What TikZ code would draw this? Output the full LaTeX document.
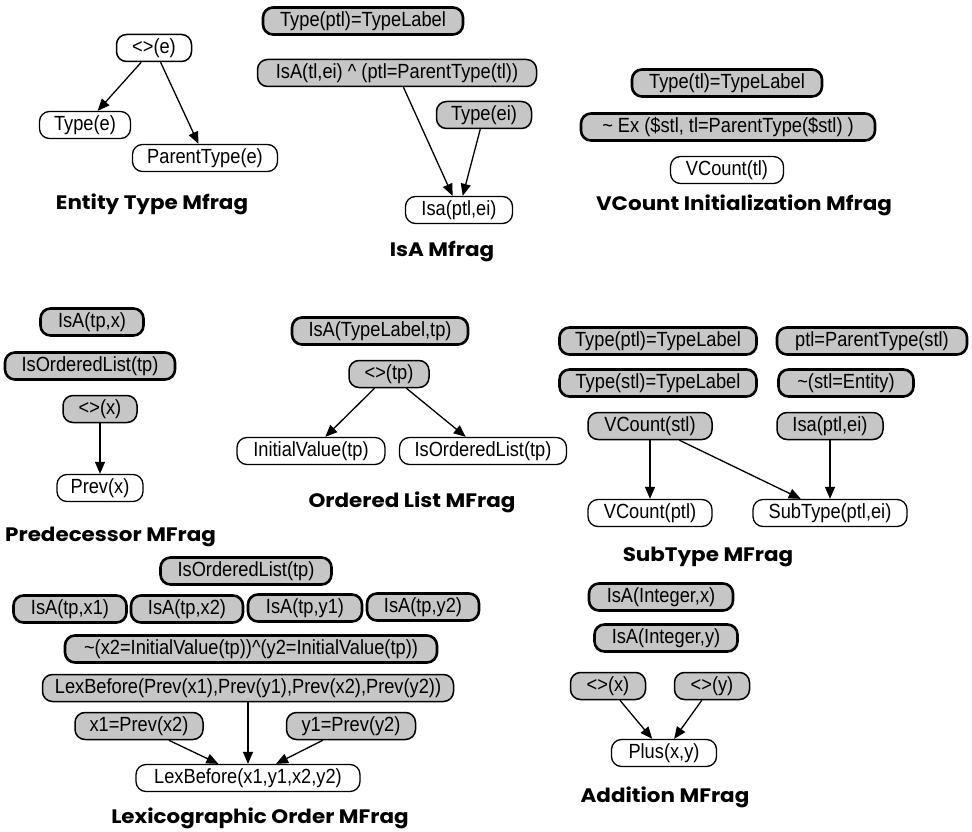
\documentclass[tikz,border=0pt]{standalone}
\usepackage{fontspec}
\setmainfont{Liberation Sans}[FakeStretch=0.89]
\newfontfamily\titlefont{Poppins}[FakeStretch=1.1]
\usetikzlibrary{arrows.meta}
\definecolor{nodegray}{RGB}{198,198,198}
\tikzset{
  x=1pt, y=-1pt,
  base/.style={draw, rounded corners=10pt, minimum height=27pt, inner xsep=0pt,
    inner ysep=0pt, font=\fontsize{20.5}{22}\selectfont, text=black},
  res/.style={base, fill=white, line width=1.3pt},
  inp/.style={base, fill=nodegray, line width=1.5pt},
  ctx/.style={base, fill=nodegray, line width=2.6pt},
  arr/.style={line width=1.3pt, -{Triangle[length=12pt,width=10pt]}},
  ttl/.style={font=\titlefont\bfseries\fontsize{19.5}{22}\selectfont}
}
\begin{document}
\begin{tikzpicture}
\useasboundingbox (0,0) rectangle (972,832);

% Entity Type Mfrag
\node[inp, fill=white, minimum width=75pt] (ee) at (154,48) {<>(e)};
\node[res, minimum width=91pt] (te) at (85,125) {Type(e)};
\node[res, minimum width=145pt] (pte) at (205,158) {ParentType(e)};
\node[ttl] (t1) at (152,204) {Entity Type Mfrag};
\draw[arr] (ee) -- (te);
\draw[arr] (ee) -- (pte);

% IsA Mfrag
\node[ctx, minimum width=200pt] (i1) at (363,21) {Type(ptl)=TypeLabel};
\node[inp, minimum width=279pt] (i2) at (397,73) {IsA(tl,ei) \^{} (ptl=ParentType(tl))};
\node[inp, minimum width=95pt] (i3) at (484,115) {Type(ei)};
\node[res, minimum width=107pt] (i4) at (459,210) {Isa(ptl,ei)};
\node[ttl] (t2) at (442,252) {IsA Mfrag};
\draw[arr] (i2) -- (i4);
\draw[arr] (i3) -- (i4);

% VCount Initialization Mfrag
\node[ctx, minimum width=190pt] (v1) at (727,83) {Type(tl)=TypeLabel};
\node[ctx, minimum width=294pt] (v2) at (728,127) {\textasciitilde{} Ex (\$stl, tl=ParentType(\$stl) )};
\node[res, minimum width=113pt] (v3) at (727,170) {VCount(tl)};
\node[ttl] (t3) at (744,205) {VCount Initialization Mfrag};

% Predecessor MFrag
\node[ctx, minimum width=103pt] (p1) at (92,322) {IsA(tp,x)};
\node[ctx, minimum width=170pt] (p2) at (90,366) {IsOrderedList(tp)};
\node[inp, minimum width=74pt] (p3) at (100,409) {<>(x)};
\node[res, minimum width=86pt] (p4) at (100,488) {Prev(x)};
\node[ttl, anchor=west, inner xsep=0pt] (t4) at (5,537) {Predecessor MFrag};
\draw[arr] (p3) -- (p4);

% Ordered List MFrag
\node[ctx, minimum width=176pt] (o1) at (380,331) {IsA(TypeLabel,tp)};
\node[inp, minimum width=80pt] (o2) at (389,374) {<>(tp)};
\node[res, minimum width=148pt] (o3) at (311,451) {InitialValue(tp)};
\node[res, minimum width=167pt] (o4) at (483,451) {IsOrderedList(tp)};
\node[ttl] (t5) at (412,502) {Ordered List MFrag};
\draw[arr] (o2) -- (o3);
\draw[arr] (o2) -- (o4);

% SubType MFrag
\node[ctx, minimum width=197pt] (s1) at (658,341) {Type(ptl)=TypeLabel};
\node[ctx, minimum width=190pt] (s2) at (872,341) {ptl=ParentType(stl)};
\node[ctx, minimum width=197pt] (s3) at (658,383) {Type(stl)=TypeLabel};
\node[ctx, minimum width=135pt] (s4) at (846,383) {\textasciitilde(stl=Entity)};
\node[inp, minimum width=124pt] (s5) at (650,426) {VCount(stl)};
\node[inp, minimum width=106pt] (s6) at (830,426) {Isa(ptl,ei)};
\node[res, minimum width=124pt] (s7) at (650,513) {VCount(ptl)};
\node[res, minimum width=154pt] (s8) at (830,513) {SubType(ptl,ei)};
\node[ttl] (t6) at (708,557) {SubType MFrag};
\draw[arr] (s5) -- (s7);
\draw[arr] (s5) -- (s8);
\draw[arr] (s6) -- (s8);

% Lexicographic Order MFrag
\node[ctx, minimum width=171pt] (l1) at (246,571) {IsOrderedList(tp)};
\node[ctx, minimum width=113pt] (l2) at (70,609) {IsA(tp,x1)};
\node[ctx, minimum width=112pt] (l3) at (187,609) {IsA(tp,x2)};
\node[ctx, minimum width=114pt] (l4) at (305,608) {IsA(tp,y1)};
\node[ctx, minimum width=112pt] (l5) at (423,607) {IsA(tp,y2)};
\node[ctx, minimum width=372pt] (l6) at (251,649) {\textasciitilde(x2=InitialValue(tp))\^{}(y2=InitialValue(tp))};
\node[inp, minimum width=411pt] (l7) at (248,688) {LexBefore(Prev(x1),Prev(y1),Prev(x2),Prev(y2))};
\node[inp, minimum width=128pt] (l8) at (139,726) {x1=Prev(x2)};
\node[inp, minimum width=129pt] (l9) at (351,726) {y1=Prev(y2)};
\node[res, minimum width=224pt] (l10) at (248,778) {LexBefore(x1,y1,x2,y2)};
\node[ttl] (t7) at (260,818) {Lexicographic Order MFrag};
\draw[arr] (l7) -- (l10);
\draw[arr] (l8) -- (l10);
\draw[arr] (l9) -- (l10);

% Addition MFrag
\node[ctx, minimum width=144pt] (a1) at (661,597) {IsA(Integer,x)};
\node[ctx, minimum width=143pt] (a2) at (666,638) {IsA(Integer,y)};
\node[inp, minimum width=75pt] (a3) at (608,686) {<>(x)};
\node[inp, minimum width=75pt] (a4) at (712,686) {<>(y)};
\node[res, minimum width=105pt] (a5) at (664,753) {Plus(x,y)};
\node[ttl] (t8) at (665,797) {Addition MFrag};
\draw[arr] (a3) -- (a5);
\draw[arr] (a4) -- (a5);
\end{tikzpicture}
\end{document}
